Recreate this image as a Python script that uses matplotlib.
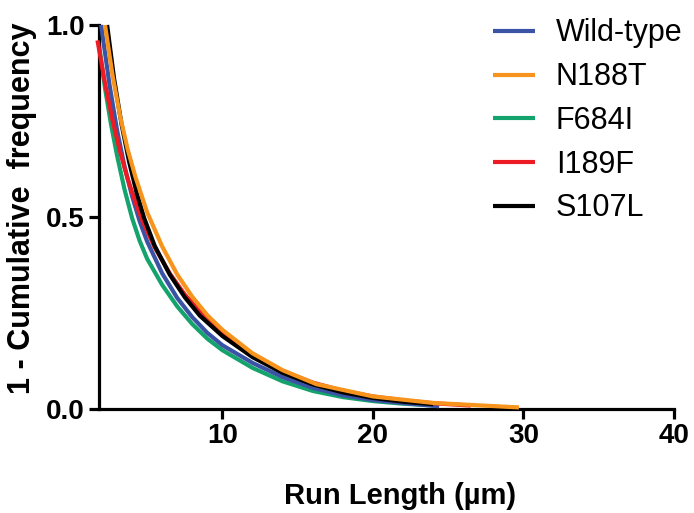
import matplotlib
matplotlib.use("Agg")
import matplotlib.pyplot as plt

plt.rcParams['font.family'] = ['Liberation Sans', 'DejaVu Sans']

series_names = ["Wild-type", "N188T", "F684I", "I189F", "S107L"]
series_colors = ["#3A53A4", "#F7941D", "#14A36C", "#ED1C24", "#000000"]

wt_x = [1.94, 2.5, 3.0, 3.5, 4.0, 4.5, 5.0, 6.0, 7.0, 8.0, 9.0, 10.0, 12.0, 14.0, 16.0, 18.0, 20.0, 22.0, 24.4]
wt_y = [1.0, 0.844, 0.726, 0.631, 0.554, 0.489, 0.436, 0.353, 0.289, 0.239, 0.198, 0.166, 0.12, 0.083, 0.055, 0.036, 0.0235, 0.0155, 0.007]

n188t_x = [2.2, 2.7, 3.2, 3.7, 4.2, 5.0, 6.0, 7.0, 8.0, 9.0, 10.0, 12.0, 14.0, 16.25, 20.0, 24.0, 29.7]
n188t_y = [1.0, 0.869, 0.763, 0.677, 0.607, 0.512, 0.423, 0.35, 0.292, 0.244, 0.206, 0.145, 0.101, 0.0646, 0.0327, 0.0158, 0.0041]

f684i_x = [1.8, 2.2, 2.6, 3.0, 3.5, 4.0, 4.5, 5.0, 6.0, 7.0, 8.0, 9.0, 10.0, 12.0, 14.0, 16.0, 18.0, 20.0, 22.0, 24.0]
f684i_y = [0.95, 0.835, 0.741, 0.660, 0.571, 0.497, 0.438, 0.391, 0.323, 0.267, 0.221, 0.183, 0.153, 0.107, 0.072, 0.047, 0.031, 0.0206, 0.0138, 0.0093]

i189f_x = [1.7, 2.2, 2.7, 3.2, 3.7, 4.2, 4.7, 5.5, 6.5, 7.5, 8.5, 10.0, 12.0, 14.0, 16.0, 18.0, 20.0, 22.0, 24.0, 26.5]
i189f_y = [0.96, 0.848, 0.752, 0.670, 0.600, 0.541, 0.489, 0.421, 0.353, 0.298, 0.254, 0.200, 0.142, 0.099, 0.0686, 0.0474, 0.0327, 0.0224, 0.015, 0.009]

s107l_x = [2.34, 2.8, 3.3, 3.8, 4.3, 4.8, 5.5, 6.5, 7.5, 8.5, 10.0, 12.0, 14.0, 16.0, 18.0, 20.0, 22.0, 24.0]
s107l_y = [1.0, 0.861, 0.741, 0.644, 0.563, 0.497, 0.425, 0.35, 0.291, 0.243, 0.19, 0.135, 0.094, 0.064, 0.0432, 0.0288, 0.019, 0.0123]

x_ticks = [10, 20, 30, 40]
y_ticks = [0.0, 0.5, 1.0]
y_tick_labels = ["0.0", "0.5", "1.0"]

fig = plt.figure(figsize=(6.94, 5.13), dpi=100)
ax = fig.add_axes([99/694, 1-409/513, (674-99)/694, (409-25)/513])

data = {
    "Wild-type": (wt_x, wt_y),
    "N188T": (n188t_x, n188t_y),
    "F684I": (f684i_x, f684i_y),
    "I189F": (i189f_x, i189f_y),
    "S107L": (s107l_x, s107l_y),
}
zorders = {"F684I": 2, "Wild-type": 3, "I189F": 4, "S107L": 5, "N188T": 6}
handles = {}
for name, col in zip(series_names, series_colors):
    xs, ys = data[name]
    ln, = ax.plot(xs, ys, color=col, lw=3.0, solid_capstyle='butt', zorder=zorders[name], clip_on=False)
    handles[name] = ln

ax.set_xlim(1.8, 40)
ax.set_ylim(0, 1.0)
ax.set_xticks(x_ticks)
ax.set_xticklabels([str(t) for t in x_ticks])
ax.set_yticks(y_ticks)
ax.set_yticklabels(y_tick_labels)
for s in ["top", "right"]:
    ax.spines[s].set_visible(False)
for s in ["left", "bottom"]:
    ax.spines[s].set_linewidth(2.3)
ax.tick_params(axis='both', width=2.3, length=7, labelsize=20, pad=3)
for lab in ax.get_xticklabels() + ax.get_yticklabels():
    lab.set_fontweight('bold')

ax.set_xlabel("Run Length (µm)", fontsize=21, fontweight='bold')
ax.set_ylabel("1 - Cumulative  frequency", fontsize=22, fontweight='bold')
ax.xaxis.set_label_coords(0.523, -0.19)
ax.yaxis.set_label_coords(-0.108, 0.522)

leg = ax.legend([handles[n] for n in series_names], series_names, loc='upper left',
                bbox_to_anchor=((493 - 99) / 575, 1.017), frameon=False, fontsize=22,
                handlelength=1.37, handletextpad=0.69, labelspacing=0.45,
                borderaxespad=0, borderpad=0)

fig.savefig("out.png", dpi=100)
